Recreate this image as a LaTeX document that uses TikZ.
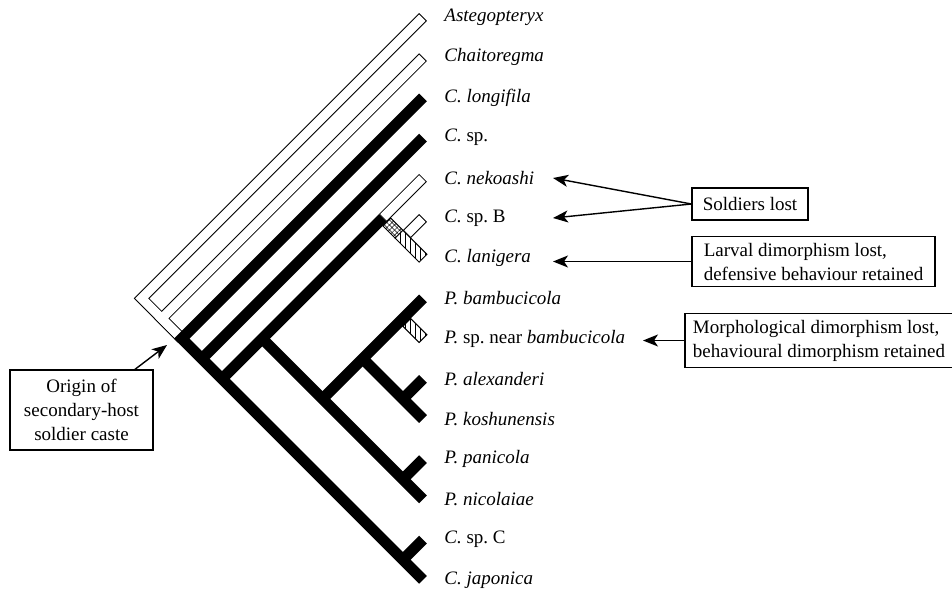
\documentclass[tikz,border=0pt]{standalone}
\usepackage{fontspec}
\setmainfont{Liberation Serif}
\usetikzlibrary{arrows.meta,calc,patterns.meta}

\begin{document}
\begin{tikzpicture}[x=0.5pt, y=-0.5pt,
    font=\fontsize{9.5}{12}\selectfont,
    taxon/.style={anchor=west, inner sep=0pt},
    openedge/.style={line width=5.5pt, line join=miter},
    openfill/.style={line width=4.5pt, white, line join=miter, shorten <=0.5pt, shorten >=0.5pt},
    blackbar/.style={line width=5.5pt, line join=miter},
    patbox/.style={draw, line width=0.5pt, fill=white},
    note/.style={draw, line width=0.6pt, inner xsep=4pt, inner ysep=3pt},
    arrow/.style={-{Stealth[length=7.5pt,width=6pt,inset=2pt]}, line width=0.7pt}
]
\useasboundingbox (0,0) rectangle (952,589);

% Branch tips
\coordinate (t0) at (423,17);
\coordinate (t1) at (423,57.2);
\coordinate (t2) at (423,97.4);
\coordinate (t3) at (423,137.6);
\coordinate (t4) at (423,177.8);
\coordinate (t5) at (423,218);
\coordinate (t6) at (423,258.2);
\coordinate (t7) at (423,298.4);
\coordinate (t8) at (423,338.6);
\coordinate (t9) at (423,378.8);
\coordinate (t10) at (423,419);
\coordinate (t11) at (423,459.2);
\coordinate (t12) at (423,499.4);
\coordinate (t13) at (423,539.6);
\coordinate (t14) at (423,579.8);

% Internal nodes
\coordinate (root) at (141.6,298.4);
\coordinate (n1) at (161.7,318.5);
\coordinate (n2) at (181.8,338.6);
\coordinate (n3) at (201.9,358.7);
\coordinate (n4) at (222,378.8);
\coordinate (n4_12) at (262.2,338.6);
\coordinate (n4_6) at (382.8,218);
\coordinate (n5_6) at (402.9,238.1);
\coordinate (n7_12) at (322.5,398.9);
\coordinate (n7_10) at (362.7,358.7);
\coordinate (n7_8) at (402.9,318.5);
\coordinate (n9_10) at (402.9,398.9);
\coordinate (n11_12) at (402.9,479.3);
\coordinate (n13_14) at (402.9,559.7);

% Ends of the patterned pieces
\coordinate (p1) at ($(n4_6)!2.75pt!(n5_6)$);
\coordinate (p2) at ($(n5_6)!2.75pt!(n4_6)$);
\coordinate (s5) at ($(n5_6)!2.75pt!(t5)$);
\coordinate (s8) at ($(n7_8)!2.75pt!(t8)$);

% Open branches (no soldiers)
\draw[openedge] (t0) -- (root) -- (n2);
\draw[openedge] (t1) -- (n1) -- (n2);
\draw[openedge] (n4_6) -- (t4);
\draw[openedge] (s5) -- (t5);
\draw[openfill] (t0) -- (root) -- (n2);
\draw[openfill] (t1) -- (n1) -- (n2);
\draw[openfill] (n4_6) -- (t4);
\draw[openfill] (s5) -- (t5);

% Black branches (soldiers)
\draw[blackbar] (t2) -- (n2) -- (t14);
\draw[blackbar] (n3) -- (t3);
\draw[blackbar] (n4) -- (n4_6);
\draw[blackbar] (n4_12) -- (t12);
\draw[blackbar] (n7_12) -- (t7);
\draw[blackbar] (n7_10) -- (t10);
\draw[blackbar] (n9_10) -- (t9);
\draw[blackbar] (n11_12) -- (t11);
\draw[blackbar] (n13_14) -- (t13);

% Patterned branches
\draw[patbox, postaction={pattern={Lines[angle=45,distance=1.8pt,line width=0.25pt]}},
    postaction={pattern={Lines[angle=-45,distance=1.8pt,line width=0.25pt]}}]
    ($(p1)!2.75pt!90:(p2)$) -- ($(p1)!2.75pt!-90:(p2)$) -- ($(p2)!2.75pt!90:(p1)$) -- ($(p2)!2.75pt!-90:(p1)$) -- cycle;
\draw[patbox, postaction={pattern={Lines[angle=90,distance=2.5pt,line width=0.5pt]}}]
    ($(p2)!2.75pt!90:(t6)$) -- ($(p2)!2.75pt!-90:(t6)$) -- ($(t6)!2.75pt!90:(p2)$) -- ($(t6)!2.75pt!-90:(p2)$) -- cycle;
\draw[patbox, postaction={pattern={Lines[angle=90,distance=2.5pt,line width=0.5pt]}}]
    ($(s8)!2.75pt!90:(t8)$) -- ($(s8)!2.75pt!-90:(t8)$) -- ($(t8)!2.75pt!90:(s8)$) -- ($(t8)!2.75pt!-90:(s8)$) -- cycle;

% Taxon labels
\node[taxon] (l0) at (444,17) {\textit{Astegopteryx}};
\node[taxon] (l1) at (444,57.2) {\textit{Chaitoregma}};
\node[taxon] (l2) at (444,97.4) {\textit{C.~longifila}};
\node[taxon] (l3) at (444,137.6) {\textit{C.}~sp.};
\node[taxon] (l4) at (444,177.8) {\textit{C.~nekoashi}};
\node[taxon] (l5) at (444,218) {\textit{C.}~sp.~B};
\node[taxon] (l6) at (444,258.2) {\textit{C.~lanigera}};
\node[taxon] (l7) at (444,298.4) {\textit{P.~bambucicola}};
\node[taxon] (l8) at (444,338.6) {\textit{P.}~sp.~near \textit{bambucicola}};
\node[taxon] (l9) at (444,378.8) {\textit{P.~alexanderi}};
\node[taxon] (l10) at (444,419) {\textit{P.~koshunensis}};
\node[taxon] (l11) at (444,459.2) {\textit{P.~panicola}};
\node[taxon] (l12) at (444,499.4) {\textit{P.~nicolaiae}};
\node[taxon] (l13) at (444,539.6) {\textit{C.}~sp.~C};
\node[taxon] (l14) at (444,579.8) {\textit{C.~japonica}};

% Annotation boxes
\node[note, minimum width=58pt, minimum height=16pt] (soldiers) at (750,204) {Soldiers lost};
\node[note, align=left, minimum width=121.5pt] (larval) at (813.5,261.5) {Larval dimorphism lost,\\defensive behaviour retained};
\node[note, align=left] (morph) at (819,340.5) {Morphological dimorphism lost,\\behavioural dimorphism retained};
\node[note, align=center, minimum width=71.5pt, minimum height=40pt] (origin) at (81.5,410) {Origin of\\secondary-host\\soldier caste};

% Arrows
\coordinate (tipA) at (553,178);
\coordinate (tipB) at (553,218);
\coordinate (tipC) at (553,261.5);
\coordinate (tipD) at (643,340.5);
\coordinate (tipE) at (167,345);
\draw[arrow] (soldiers.west) -- (tipA);
\draw[arrow] (soldiers.west) -- (tipB);
\draw[arrow] (larval.west) -- (tipC);
\draw[arrow] (morph.west) -- (tipD);
\draw[arrow] (origin) -- (tipE);

\end{tikzpicture}
\end{document}
